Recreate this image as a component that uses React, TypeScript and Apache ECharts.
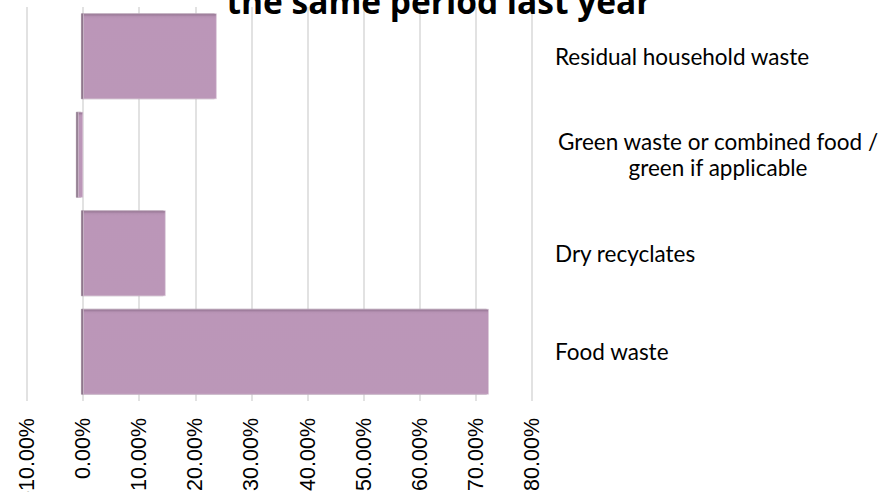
import React, { useEffect, useRef } from "react";
import * as echarts from "echarts";

const categories = [
  "Residual household waste",
  "Green waste or combined food / green if applicable",
  "Dry recyclates",
  "Food waste",
];
const values = [23.8, -0.9, 14.7, 72.3];
const titleText = "the same period last year";
const axisMin = -10;
const axisMax = 80;
const axisStep = 10;

export default function App() {
  const ref = useRef<HTMLDivElement>(null);
  useEffect(() => {
    if (!ref.current) return;
    const chart = echarts.init(ref.current, null, { renderer: "svg" });
    chart.setOption({
      animation: false,
      backgroundColor: "#ffffff",
      title: {
        text: titleText,
        left: 434,
        textAlign: "center",
        top: -21,
        textStyle: {
          fontFamily: "Open Sans",
          fontWeight: "bold",
          fontSize: 33.5,
          color: "#000000",
        },
      },
      grid: {
        left: 27,
        right: 354,
        top: 7,
        bottom: 91,
        containLabel: false,
        outerBoundsMode: "none",
      },
      xAxis: {
        type: "value",
        min: axisMin,
        max: axisMax,
        interval: axisStep,
        axisLine: { show: false },
        axisTick: { show: false },
        splitLine: { show: true, lineStyle: { color: "#d9d9d9", width: 1.5 } },
        axisLabel: {
          rotate: 90,
          margin: 17,
          fontFamily: "Liberation Sans",
          fontSize: 21.5,
          color: "#000000",
          formatter: (v: number) => v.toFixed(2) + "%",
        },
      },
      yAxis: {
        type: "category",
        position: "right",
        inverse: true,
        data: categories,
        axisLine: { show: false },
        axisTick: { show: false },
        splitLine: { show: false },
        axisLabel: {
          margin: 23,
          align: "left",
          fontFamily: "Lato",
          fontSize: 22.5,
          color: "#000000",
          formatter: (v: string) => {
            if (v.indexOf("/") >= 0) {
              const parts = v.split("/ ");
              return "{c|" + parts[0] + "/}\n{c|" + parts[1] + "}";
            }
            return v;
          },
          rich: {
            c: {
              width: 326,
              align: "center",
              fontFamily: "Lato",
              fontSize: 22.5,
              lineHeight: 26,
              color: "#000000",
            },
          },
        },
      },
      series: [
        {
          type: "bar",
          data: values,
          barCategoryGap: "13%",
          itemStyle: {
            color: new echarts.graphic.LinearGradient(0, 0, 0, 1, [
              { offset: 0, color: "#8f6f8d" },
              { offset: 0.035, color: "#b692b3" },
              { offset: 0.06, color: "#bb96b8" },
              { offset: 1, color: "#bb97b8" },
            ]),
            borderColor: "#dccbda",
            borderWidth: 0.6,
            shadowColor: "rgba(110,80,108,0.8)",
            shadowOffsetX: -2,
            shadowOffsetY: 0,
            shadowBlur: 1,
          },
        },
      ],
    });
    return () => chart.dispose();
  }, []);
  return (
    <div
      ref={ref}
      style={{ position: "fixed", left: 0, top: 0, width: 886, height: 492 }}
    />
  );
}
